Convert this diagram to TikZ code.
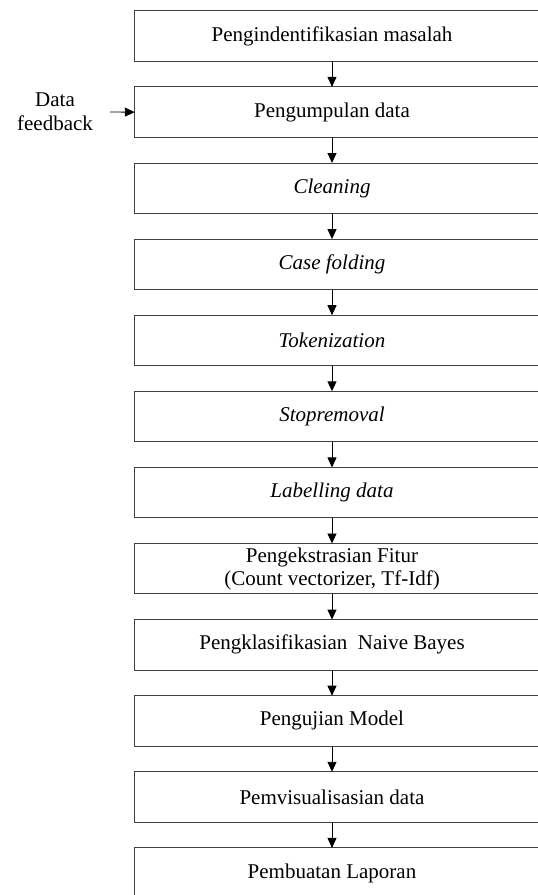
\documentclass[tikz,border=0pt]{standalone}
\usepackage{fontspec}
\setmainfont{Liberation Serif}
\usetikzlibrary{arrows.meta}
\begin{document}
\begin{tikzpicture}[x=1pt,y=-1pt,
  stepbox/.style={minimum width=394pt,minimum height=50pt,inner sep=0pt,align=center,font=\fontsize{21}{23}\selectfont},
  edge/.style={draw=black!75,line width=1pt},
  flow/.style={-{Triangle[length=10pt,width=9pt]},line width=0.9pt,black},
  lbl/.style={align=center,inner sep=0pt,font=\fontsize{21}{24}\selectfont}]
\useasboundingbox (0,0) rectangle (538,895);
\clip (0,0) rectangle (538,895);
\foreach \i/\t in {1/{Pengindentifikasian masalah},
  2/{Pengumpulan data},
  3/{\textit{Cleaning}},
  4/{\textit{Case folding}},
  5/{\textit{Tokenization}},
  6/{\textit{Stopremoval}},
  7/{\textit{Labelling data}},
  8/{Pengekstrasian Fitur\\(Count vectorizer, Tf-Idf)},
  9/{Pengklasifikasian\ \ Naive Bayes},
  10/{Pengujian Model},
  11/{Pemvisualisasian data},
  12/{Pembuatan Laporan}} {
  \node[stepbox] (b\i) at (332, {11+76.1*(\i-1)+25}) {\t};
  \draw[edge] ([xshift=40pt]b\i.north east) -- (b\i.north west) -- (b\i.south west) -- ([xshift=40pt]b\i.south east);
}
\foreach \i [evaluate=\i as \j using int(\i+1)] in {1,...,11} {
  \draw[flow] (b\i.south) -- (b\j.north);
}
\node[lbl] (fb) at (55,112) {Data\\feedback};
\coordinate (fbin) at (110,112);
\draw[flow] (fbin) -- (b2.west);
\end{tikzpicture}
\end{document}
